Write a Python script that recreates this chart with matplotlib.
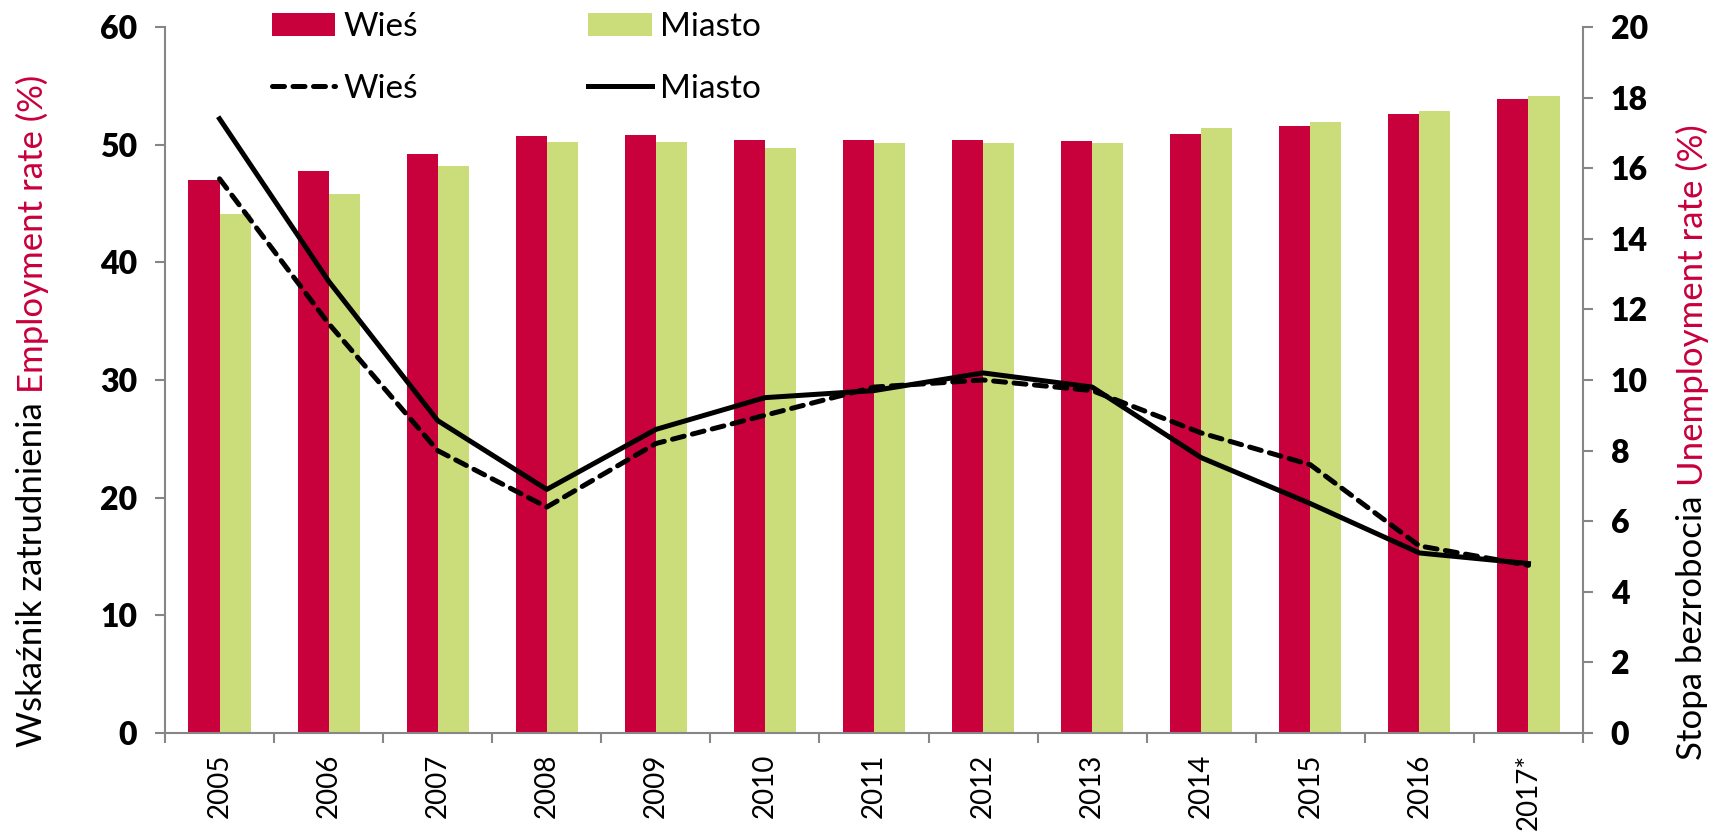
import numpy as np
import matplotlib
matplotlib.use("Agg")
import matplotlib.pyplot as plt
from matplotlib.ticker import FixedLocator

plt.rcParams['font.family'] = ['Lato', 'DejaVu Sans']

years = ["2005", "2006", "2007", "2008", "2009", "2010", "2011",
         "2012", "2013", "2014", "2015", "2016", "2017*"]

# employment rate (%) - bars, left axis
emp_wies = [47.0, 47.8, 49.2, 50.7, 50.8, 50.4, 50.4, 50.4, 50.3, 50.9, 51.6, 52.6, 53.9]
emp_miasto = [44.1, 45.8, 48.2, 50.2, 50.2, 49.7, 50.1, 50.1, 50.1, 51.4, 51.9, 52.9, 54.1]

# unemployment rate (%) - lines, right axis
unemp_wies = [15.7, 11.6, 8.0, 6.4, 8.2, 9.0, 9.8, 10.0, 9.7, 8.5, 7.6, 5.3, 4.75]
unemp_miasto = [17.4, 12.8, 8.85, 6.9, 8.6, 9.5, 9.7, 10.2, 9.8, 7.8, 6.5, 5.1, 4.8]

RED = "#C8003C"
GREEN = "#CBDC7B"
GREY = "#868686"

fig = plt.figure(figsize=(17.11, 8.34), dpi=100)
ax = fig.add_axes([165 / 1711, 1 - 733 / 834, (1583 - 165) / 1711, (733 - 27) / 834])

x = np.arange(len(years))
w = 0.285
b1 = ax.bar(x - w / 2, emp_wies, w, color=RED, label="Wieś")
b2 = ax.bar(x + w / 2, emp_miasto, w, color=GREEN, label="Miasto")
ax.set_xlim(-0.5, len(years) - 0.5)
ax.set_ylim(0, 60)
ax.set_yticks(np.arange(0, 61, 10))

ax2 = ax.twinx()
l1, = ax2.plot(x, unemp_wies, color="black", lw=3.6, ls=(0, (2.4, 1.7)),
               dash_capstyle="round", label="Wieś")
l2, = ax2.plot(x, unemp_miasto, color="black", lw=3.6, label="Miasto")
ax2.set_ylim(0, 20)
ax2.set_yticks(np.arange(0, 21, 2))

for a in (ax, ax2):
    a.spines["top"].set_visible(False)
    for s in ("left", "right", "bottom"):
        a.spines[s].set_color(GREY)
        a.spines[s].set_linewidth(1.5)
ax.spines["right"].set_visible(False)
ax2.spines["left"].set_visible(False)
ax2.spines["bottom"].set_visible(False)

ax.tick_params(axis="y", direction="out", length=7, width=1.5, color=GREY,
               labelsize=23, pad=13)
ax2.tick_params(axis="y", direction="out", length=7, width=1.5, color=GREY,
                labelsize=23, pad=13)
for lab in ax.get_yticklabels() + ax2.get_yticklabels():
    lab.set_fontweight("heavy")

ax.set_xticks(x)
ax.set_xticklabels(years, rotation=90, fontsize=20)
ax.tick_params(axis="x", which="major", length=0, pad=15)
ax.xaxis.set_minor_locator(FixedLocator(np.arange(-0.5, len(years), 1)))
ax.tick_params(axis="x", which="minor", direction="out", length=7, width=1.5, color=GREY)

leg = fig.legend([b1, l1, b2, l2], ["Wieś", "Wieś", "Miasto", "Miasto"], ncol=2,
                 loc="upper left", bbox_to_anchor=(272 / 1711, 1 - 12 / 834),
                 frameon=False, fontsize=24, handlelength=1.9, handletextpad=0.25,
                 columnspacing=5.1, labelspacing=0.95, borderpad=0, borderaxespad=0)


def two_color_label(xpos, ybottom, first, second, size):
    t1 = fig.text(xpos, ybottom, first, rotation=90, ha="center", va="bottom",
                  fontsize=size, color="black")
    fig.canvas.draw()
    bb = t1.get_window_extent().transformed(fig.transFigure.inverted())
    gap = size * 0.28 / 72 * fig.dpi / fig.bbox.height
    fig.text(xpos, bb.y1 + gap, second, rotation=90, ha="center", va="bottom",
             fontsize=size, color=RED)


two_color_label(32 / 1711, 1 - 747 / 834, "Wskaźnik zatrudnienia", "Employment rate (%)", 25)
two_color_label(1692 / 1711, 1 - 760 / 834, "Stopa bezrobocia", "Unemployment rate (%)", 25)

fig.savefig("out.png", dpi=100)
